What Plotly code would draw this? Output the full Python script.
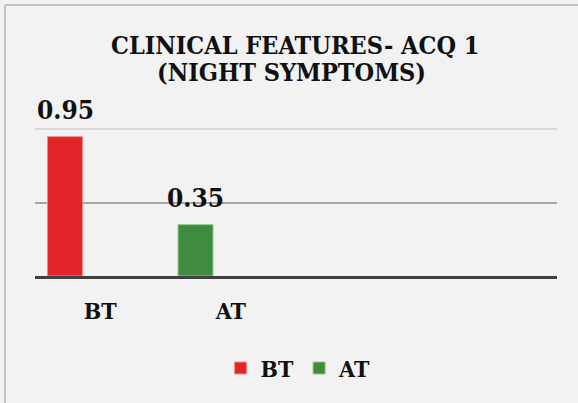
import plotly.graph_objects as go

categories = ["BT", "AT", " ", "  "]
series_names = ["BT", "AT"]
series_values = [0.95, 0.35]
series_colors = ["#e32428", "#3f8b3f"]
series_edges = ["#f08a8c", "#8cc98c"]
title_lines = ["CLINICAL FEATURES- ACQ 1", "(NIGHT SYMPTOMS)"]

FONT = "DejaVu Serif Condensed, Liberation Serif"
fig = go.Figure()
for name, val, col, edge in zip(series_names, series_values, series_colors, series_edges):
    fig.add_trace(go.Bar(
        x=[name], y=[val], name=name,
        marker=dict(color=col, line=dict(color=edge, width=1)),
        offset=-0.404, width=0.268,
    ))
    fig.add_annotation(
        x=name, y=val, xref="x", yref="y", text=f"{val:.2f}",
        showarrow=False, yanchor="bottom", xshift=-35, yshift=10,
        font=dict(family=FONT, size=26, color="#111111", weight="bold"),
    )

fig.add_annotation(x=0.498, y=1.3125, xref="paper", yref="paper", text=title_lines[0],
                   showarrow=False, yanchor="middle",
                   font=dict(family=FONT, size=25, color="#111111", weight="bold"))
fig.add_annotation(x=0.492, y=1.155, xref="paper", yref="paper", text=title_lines[1],
                   showarrow=False, yanchor="middle",
                   font=dict(family=FONT, size=25, color="#111111", weight="bold"))

# outer chart border (top and left visible)
fig.add_shape(type="line", xref="paper", yref="paper", x0=-0.0575, x1=1.1, y0=1.54, y1=1.54,
              line=dict(color="#c4c4c4", width=2))
fig.add_shape(type="line", xref="paper", yref="paper", x0=-0.0575, x1=-0.0575, y0=1.54, y1=-0.8,
              line=dict(color="#c4c4c4", width=2))

fig.update_layout(
    width=578, height=403,
    margin=dict(l=35, r=21, t=100, b=127, autoexpand=False),
    paper_bgcolor="#f2f2f2", plot_bgcolor="#f2f2f2",
    barmode="overlay",
    showlegend=True,
    legend=dict(orientation="h", x=0.505, xanchor="center", y=-0.523, yanchor="middle",
                font=dict(family=FONT, size=23, color="#111111", weight="bold"),
                bgcolor="rgba(0,0,0,0)", itemwidth=30),
    xaxis=dict(type="category", categoryorder="array", categoryarray=categories,
               range=[-0.5, 3.5], showline=True, linecolor="#404040", linewidth=3,
               showgrid=False, ticks="", ticklabelstandoff=12, automargin=False,
               tickfont=dict(family=FONT, size=23, color="#111111", weight="bold")),
    yaxis=dict(range=[0, 1.2], showticklabels=False, tickvals=[1.0], showgrid=True,
               gridcolor="#d9d9d9", gridwidth=1.5, zeroline=False, ticks="", automargin=False,
               minor=dict(tickvals=[0.5], showgrid=True, gridcolor="#a6a6a6", gridwidth=1.5)),
)

fig.write_html("out.html", config={"displayModeBar": False},
               post_script="document.body.style.margin='0px';document.body.style.background='#f2f2f2';")
